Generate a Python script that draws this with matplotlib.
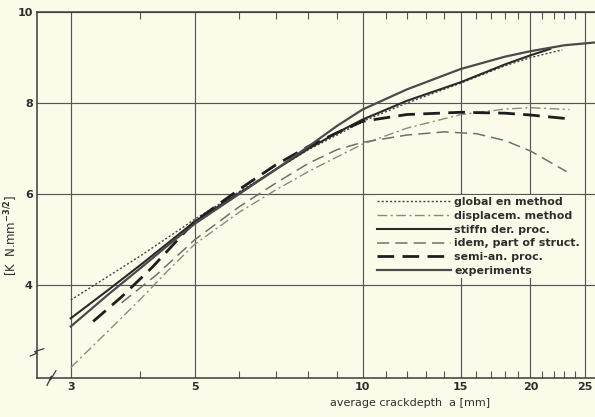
import numpy as np
import matplotlib.pyplot as plt
from matplotlib.ticker import FixedLocator, NullFormatter

# crack depth (mm) and K values
global_x = [3, 3.5, 4, 4.5, 5, 6, 7, 8, 9, 10, 12, 15, 18, 20, 22.8]
global_y = [3.68, 4.2, 4.65, 5.07, 5.45, 6.05, 6.55, 6.98, 7.3, 7.6, 8.0, 8.44, 8.82, 9.0, 9.17]

displ_x = [3, 3.5, 4, 4.5, 5, 6, 7, 8, 9, 10, 12, 15, 18, 20, 23.5]
displ_y = [2.2, 3.0, 3.7, 4.35, 4.9, 5.6, 6.1, 6.5, 6.82, 7.1, 7.45, 7.75, 7.87, 7.9, 7.86]

stiff_x = [3, 3.5, 4, 4.5, 5, 6, 7, 8, 9, 10, 12, 15, 18, 20, 21.7]
stiff_y = [3.28, 3.9, 4.45, 4.95, 5.4, 6.02, 6.55, 7.0, 7.35, 7.64, 8.05, 8.46, 8.85, 9.05, 9.19]

idem_x = [3.7, 4.27, 5, 6, 7, 8, 9, 10, 12, 14, 16, 18, 20, 23.2]
idem_y = [3.62, 4.23, 5.0, 5.72, 6.25, 6.68, 6.98, 7.14, 7.3, 7.37, 7.33, 7.18, 6.95, 6.5]

semi_x = [3.29, 3.7, 4.2, 5, 6, 7, 8, 9, 10, 12, 15, 18, 20, 23.7]
semi_y = [3.21, 3.75, 4.4, 5.4, 6.1, 6.65, 7.05, 7.35, 7.6, 7.75, 7.8, 7.78, 7.74, 7.65]

exp_x = [3, 3.5, 4, 4.5, 5, 6, 7, 8, 9, 10, 12, 15, 18, 20, 23, 26]
exp_y = [3.1, 3.8, 4.38, 4.9, 5.35, 6.0, 6.55, 7.05, 7.5, 7.86, 8.3, 8.75, 9.02, 9.14, 9.27, 9.33]

x_ticks = [3, 5, 10, 15, 20, 25]
x_minor = [4, 6, 7, 8, 9, 11, 12, 13, 14, 16, 17, 18, 19, 21, 22, 23, 24]
y_ticks = [4, 6, 8, 10]

paper = '#fcfbea'
ink = '#2e2e2e'

plt.rcParams['font.family'] = 'DejaVu Sans'
plt.rcParams['font.weight'] = 'bold'

fig = plt.figure(figsize=(5.95, 4.17), dpi=100, facecolor=paper)
ax = fig.add_axes([37 / 595, 1 - 378 / 417, 1 - 37 / 595, (378 - 12) / 417])
ax.set_facecolor(paper)

ax.plot(global_x, global_y, linestyle=(0, (1.5, 1.5)), color='#444444', linewidth=1.0, label='global en method')
ax.plot(displ_x, displ_y, linestyle=(0, (7, 2.5, 1.5, 2.5)), color='#8a8a80', linewidth=1.0, label='displacem. method')
ax.plot(stiff_x, stiff_y, linestyle='-', color='#2a2a2a', linewidth=1.5, label='stiffn der. proc.')
ax.plot(idem_x, idem_y, linestyle=(0, (8, 4)), color='#707068', linewidth=1.1, label='idem, part of struct.')
ax.plot(semi_x, semi_y, linestyle=(0, (6, 3)), color='#1e1e1e', linewidth=2.0, label='semi-an. proc.')
ax.plot(exp_x, exp_y, linestyle='-', color='#4a4a4a', linewidth=1.6, label='experiments')

ax.set_xscale('log')
ax.set_xlim(2.61, 26.1)
ax.set_ylim(1.97, 10.0)

ax.xaxis.set_major_locator(FixedLocator(x_ticks))
ax.xaxis.set_minor_locator(FixedLocator(x_minor))
ax.xaxis.set_minor_formatter(NullFormatter())
ax.set_xticklabels([str(t) for t in x_ticks])
ax.yaxis.set_major_locator(FixedLocator(y_ticks))
ax.set_yticklabels([str(t) for t in y_ticks])
ax.yaxis.set_minor_locator(FixedLocator([]))

ax.grid(True, which='major', color='#555555', linewidth=0.85)
ax.tick_params(axis='both', which='major', length=0, labelsize=8, pad=3, labelcolor=ink)
ax.tick_params(axis='x', which='minor', direction='in', length=5, width=0.8,
               color='#555555', top=True, bottom=True)

for side in ['top', 'bottom', 'left']:
    ax.spines[side].set_color('#3a3a3a')
    ax.spines[side].set_linewidth(1.1)
ax.spines['right'].set_visible(False)

# axis breaks (zigzag) on both axes near the origin
ax.plot([-0.005, 0.005], [0.07, 0.07], transform=ax.transAxes, color=paper, linewidth=4, clip_on=False)
ax.plot([-0.012, 0.0, -0.004, 0.012], [0.06, 0.068, 0.072, 0.08], transform=ax.transAxes,
        color='#3a3a3a', linewidth=0.9, clip_on=False)
ax.plot([0.022, 0.03], [0.0, 0.0], transform=ax.transAxes, color=paper, linewidth=4, clip_on=False)
ax.plot([0.018, 0.026, 0.024, 0.034], [-0.02, 0.005, -0.005, 0.02], transform=ax.transAxes,
        color='#3a3a3a', linewidth=0.9, clip_on=False)

ax.set_xlabel('average crackdepth  a [mm]', fontsize=8, color=ink)
ax.xaxis.set_label_coords(0.668, -0.055)
ax.set_ylabel(r'[K  N.mm$^{-3/2}$]', fontsize=8.5, color=ink)
ax.yaxis.set_label_coords(-0.03, 0.39)

leg = ax.legend(loc='upper left', bbox_to_anchor=(0.595, 0.515), fontsize=7.9, frameon=True,
                handlelength=6.8, handletextpad=0.25, labelspacing=0.34, borderpad=0.2)
leg.get_frame().set_facecolor(paper)
leg.get_frame().set_edgecolor('none')
leg.get_frame().set_alpha(1)
for t in leg.get_texts():
    t.set_color(ink)

fig.savefig('out.png', dpi=100, facecolor=paper)
